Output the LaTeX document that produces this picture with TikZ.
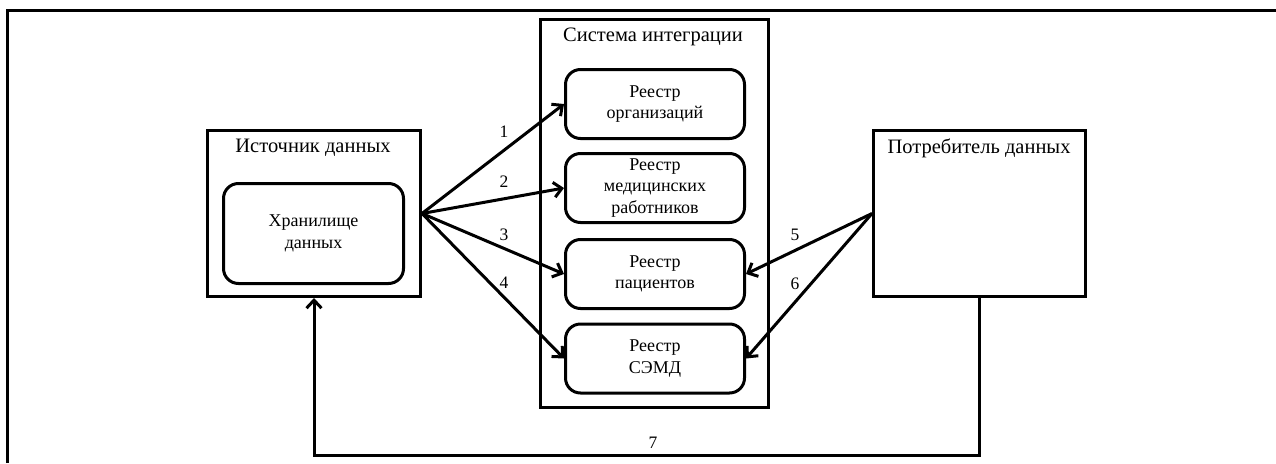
\documentclass[tikz,border=0pt]{standalone}
\usepackage{fontspec}
\setmainfont{Liberation Serif}
\usepackage{tikz}
\usetikzlibrary{arrows.meta}
\usetikzlibrary{calc}
\tikzset{
  bigbox/.style={shape=rectangle,draw,line width=3pt,fill=none,inner sep=0pt},
  regbox/.style={shape=rectangle,draw,line width=3pt,rounded corners=15pt,align=center,
    minimum width=179pt,minimum height=69pt,inner sep=0pt,font=\fontsize{18}{21.5}\selectfont},
  titletext/.style={draw=none,fill=none,inner sep=0pt,font=\fontsize{20.5}{24}\selectfont},
  numlabl/.style={draw=none,fill=none,inner sep=0pt,font=\fontsize{17.5}{20}\selectfont},
  flow/.style={line width=3pt,-{Straight Barb[length=8pt,width=15pt]}}
}
\newcommand{\bigbox}[5]{\node[bigbox,minimum width=#4pt,minimum height=#5pt] (#1) at ( #2 , #3 ) {};}
\newcommand{\boxtitle}[4]{\node[titletext] (#1) at ( #2 , #3 ) {#4};}
\newcommand{\regnode}[4]{\node[regbox] (#1) at ( #2 , #3 ) {#4};}
\newcommand{\lablnum}[4]{\node[numlabl] (#1) at ( #2 , #3 ) {#4};}

\begin{document}
\begin{tikzpicture}[x=1pt,y=-1pt]
        \useasboundingbox (0,0) rectangle (1276,463);
        % outer frame
        \draw[line width=3pt] (7,463) -- (7,10) -- (1276,10);

        % big boxes
        \bigbox{src}{314}{213.5}{213}{166}
        \bigbox{integ}{654.5}{213.5}{228}{388}
        \bigbox{cons}{979.5}{213.5}{212}{166}

        % titles
        \boxtitle{srctitle}{313}{148}{Источник данных}
        \boxtitle{integtitle}{653}{37}{Система интеграции}
        \boxtitle{constitle}{979}{148}{Потребитель данных}

        % storage
        \node[regbox,minimum width=180pt,minimum height=100pt] (store) at (313.5,233.5) {Хранилище\\данных};

        % registries
        \regnode{reg1}{655}{104}{Реестр\\организаций}
        \regnode{reg2}{655}{188}{Реестр\\медицинских\\работников}
        \regnode{reg3}{655}{274}{Реестр\\пациентов}
        \regnode{reg4}{655}{358.5}{Реестр\\СЭМД}

        % arrows from source
        \draw[flow] (src.east) -- (reg1.west);
        \draw[flow] (src.east) -- (reg2.west);
        \draw[flow] (src.east) -- (reg3.west);
        \draw[flow] (src.east) -- (reg4.west);

        % arrows from consumer
        \draw[flow] (cons.west) -- (reg3.east);
        \draw[flow] (cons.west) -- (reg4.east);

        % back loop
        \coordinate (loop) at (0,455);
        \draw[flow] (cons.south) -- (cons.south |- loop) -| (src.south);

        % numbers
        \lablnum{n1}{504}{132}{1}
        \lablnum{n2}{504}{182}{2}
        \lablnum{n3}{504}{235}{3}
        \lablnum{n4}{504}{283}{4}
        \lablnum{n5}{795}{235}{5}
        \lablnum{n6}{795}{284}{6}
        \lablnum{n7}{653}{443}{7}
\end{tikzpicture}
\end{document}
